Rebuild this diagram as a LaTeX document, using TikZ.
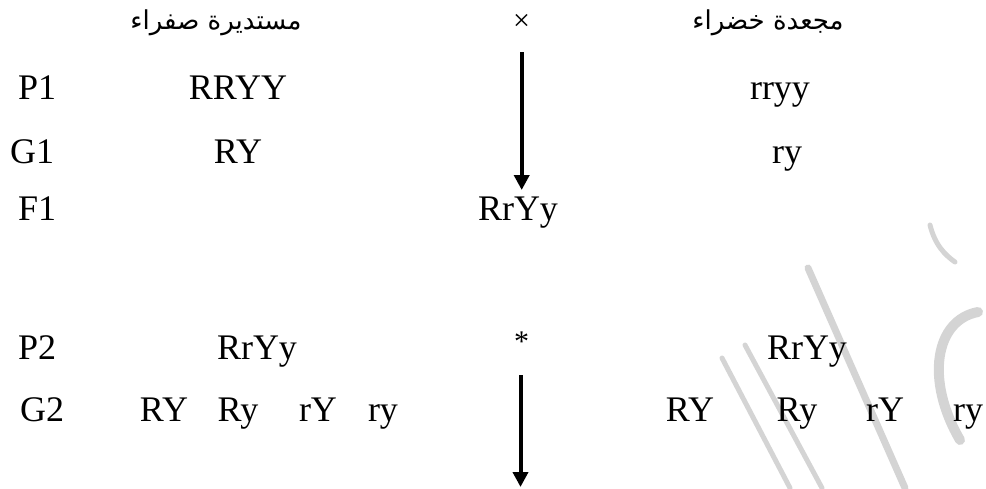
\documentclass[tikz,border=0pt]{standalone}
\usepackage{fontspec}
\setmainfont{Liberation Serif}
\newfontfamily\arabicfont[Script=Arabic]{DejaVu Sans}
\TeXXeTstate=1
\usetikzlibrary{arrows.meta}
\begin{document}
\begin{tikzpicture}[x=1pt,y=-1pt,
  lab/.style={inner sep=0pt, anchor=base west, font=\fontsize{36}{40}\selectfont},
  gen/.style={inner sep=0pt, anchor=base, font=\fontsize{36}{40}\selectfont},
  ar/.style={inner sep=0pt, anchor=base, font=\arabicfont\fontsize{26}{30}\selectfont},
  sym/.style={inner sep=0pt, font=\fontsize{30}{34}\selectfont},
  cross/.style={line width=4pt, -{Triangle[width=15pt,length=15pt]}},
  wm/.style={draw=black!17, line cap=round}]
\useasboundingbox (0,0) rectangle (986,488);
% watermark strokes
\draw[wm, line width=7pt] (808,268) -- (905,488);
\draw[wm, line width=5pt] (745,345) -- (822,488);
\draw[wm, line width=5pt] (722,358) -- (790,488);
\draw[wm, line width=10pt] (978,312) .. controls (935,320) and (925,380) .. (960,440);
\draw[wm, line width=5pt] (930,225) .. controls (935,245) and (945,255) .. (955,262);
% headers
\node[ar] (hl) at (216,29) {\beginR مستديرة صفراء\endR};
\node[ar] (hr) at (768,29) {\beginR مجعدة خضراء\endR};
\node[sym] (x) at (521.7,22) {×};
% rows
\node[lab] (p1) at (18,99) {P1};
\node[lab] (g1) at (10,163) {G1};
\node[lab] (f1) at (18,220) {F1};
\node[lab] (p2) at (18,359) {P2};
\node[lab] (g2) at (20,421) {G2};
\node[gen] (p1l) at (238,99) {RRYY};
\node[gen] (p1r) at (780,99) {rryy};
\node[gen] (g1l) at (238,163) {RY};
\node[gen] (g1r) at (787,163) {ry};
\node[gen] (f1c) at (518,220) {RrYy};
\node[gen] (p2l) at (257,359) {RrYy};
\node[gen] (p2r) at (807,359) {RrYy};
\node[sym] (st) at (521.7,342) {*};
\node[gen] (g2a) at (164,421) {RY};
\node[gen] (g2b) at (238,421) {Ry};
\node[gen] (g2c) at (318,421) {rY};
\node[gen] (g2d) at (383,421) {ry};
\node[gen] (g2e) at (690,421) {RY};
\node[gen] (g2f) at (797,421) {Ry};
\node[gen] (g2g) at (885,421) {rY};
\node[gen] (g2h) at (968,421) {ry};
% arrows
\coordinate (a1s) at (521.7,52);
\coordinate (a1e) at (521.7,190);
\coordinate (a2s) at (520.5,375);
\coordinate (a2e) at (520.5,487);
\draw[cross] (a1s) -- (a1e);
\draw[cross] (a2s) -- (a2e);
\end{tikzpicture}
\end{document}
